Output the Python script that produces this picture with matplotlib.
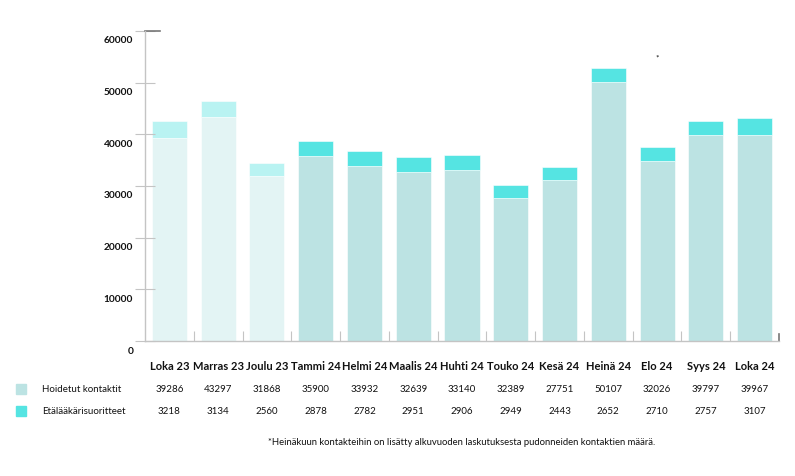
import matplotlib.pyplot as plt
import matplotlib.transforms as mtransforms
from matplotlib.patches import Rectangle
import numpy as np

plt.rcParams['font.family'] = ['Lato', 'DejaVu Sans']

months = ['Loka 23', 'Marras 23', 'Joulu 23', 'Tammi 24', 'Helmi 24', 'Maalis 24',
          'Huhti 24', 'Touko 24', 'Kesä 24', 'Heinä 24', 'Elo 24', 'Syys 24', 'Loka 24']
# values in the table under the chart
hoidetut = [39286, 43297, 31868, 35900, 33932, 32639, 33140, 32389, 27751, 50107, 32026, 39797, 39967]
etalaakari = [3218, 3134, 2560, 2878, 2782, 2951, 2906, 2949, 2443, 2652, 2710, 2757, 3107]
# bar heights as drawn (a few differ from the table)
bar_hoidetut = [39286, 43297, 31868, 35900, 33932, 32639, 33140, 27751, 31160, 50107, 34770, 39797, 39967]
bar_etalaakari = [3218, 3134, 2560, 2878, 2782, 2951, 2906, 2443, 2580, 2652, 2710, 2757, 3107]
series_names = ['Hoidetut kontaktit', 'Etälääkärisuoritteet']
yticks = [0, 10000, 20000, 30000, 40000, 50000, 60000]
footnote = '*Heinäkuun kontakteihin on lisätty alkuvuoden laskutuksesta pudonneiden kontaktien määrä.'

# first three months in a paler shade
n_old = 3
col_bottom = ['#e3f4f4'] * n_old + ['#bce3e3'] * (len(months) - n_old)
col_top = ['#b9f3f2'] * n_old + ['#55e4e2'] * (len(months) - n_old)

fig = plt.figure(figsize=(7.95, 4.77), dpi=100)
ax = fig.add_axes([145 / 795, 135 / 477, 634 / 795, 310 / 477])

x = np.arange(len(months))
ax.bar(x, bar_hoidetut, width=0.72, color=col_bottom, edgecolor='white', linewidth=0.4)
ax.bar(x, bar_etalaakari, width=0.72, bottom=bar_hoidetut, color=col_top, edgecolor='white', linewidth=0.4)

ax.set_xlim(-0.5, len(months) - 0.5)
ax.set_ylim(0, 60000)

for s in ['top', 'right']:
    ax.spines[s].set_visible(False)
for s in ['left', 'bottom']:
    ax.spines[s].set_color('#c4c4c4')
    ax.spines[s].set_linewidth(1.0)

ax.set_yticks(yticks)
ax.set_yticklabels([str(v) for v in yticks], fontsize=7.3, fontweight='bold', color='#111111')
ax.tick_params(axis='y', direction='inout', length=14, color='#c4c4c4', width=0.8, pad=1.5)
offset = mtransforms.ScaledTranslation(0, -8 / 100, fig.dpi_scale_trans)
for lab in ax.get_yticklabels():
    lab.set_transform(lab.get_transform() + offset)

ax.set_xticks(x)
ax.set_xticklabels(months, fontsize=8, fontweight='bold', color='#111111')
ax.tick_params(axis='x', length=0, pad=14)
ax.set_xticks(np.arange(0.5, len(months) - 0.5), minor=True)
ax.tick_params(axis='x', which='minor', direction='in', length=7, color='#c4c4c4', width=0.8)

# dark end marks on the axes
ax.plot([-0.5, -0.5 + 0.3], [60000, 60000], color='#777777', lw=1.2, clip_on=False)
ax.plot([len(months) - 0.5] * 2, [0, 1300], color='#777777', lw=1.2, clip_on=False)

# table below the chart
tr = mtransforms.blended_transform_factory(ax.transData, fig.transFigure)
rows = [hoidetut, etalaakari]
row_y = [1 - 390 / 477, 1 - 412 / 477]
for vals, yy in zip(rows, row_y):
    for xi, v in zip(x, vals):
        ax.text(xi, yy, str(v), transform=tr, ha='center', va='center',
                fontsize=7, color='#111111', clip_on=False)

legend_cols = ['#bce3e3', '#55e4e2']
for name, c, yy in zip(series_names, legend_cols, row_y):
    fig.patches.append(Rectangle((16 / 795, yy - 5 / 477), 10 / 795, 10 / 477,
                                 transform=fig.transFigure, color=c))
    fig.text(42 / 795, yy, name, ha='left', va='center', fontsize=7, color='#111111')

ax.text(10, 1 - 58 / 477, '*', transform=tr, ha='center', va='center', fontsize=6, color='#111111')
fig.text(268 / 795, 1 - 443 / 477, footnote, ha='left', va='center', fontsize=6.8, color='#111111')

fig.savefig('out.png', dpi=100)
